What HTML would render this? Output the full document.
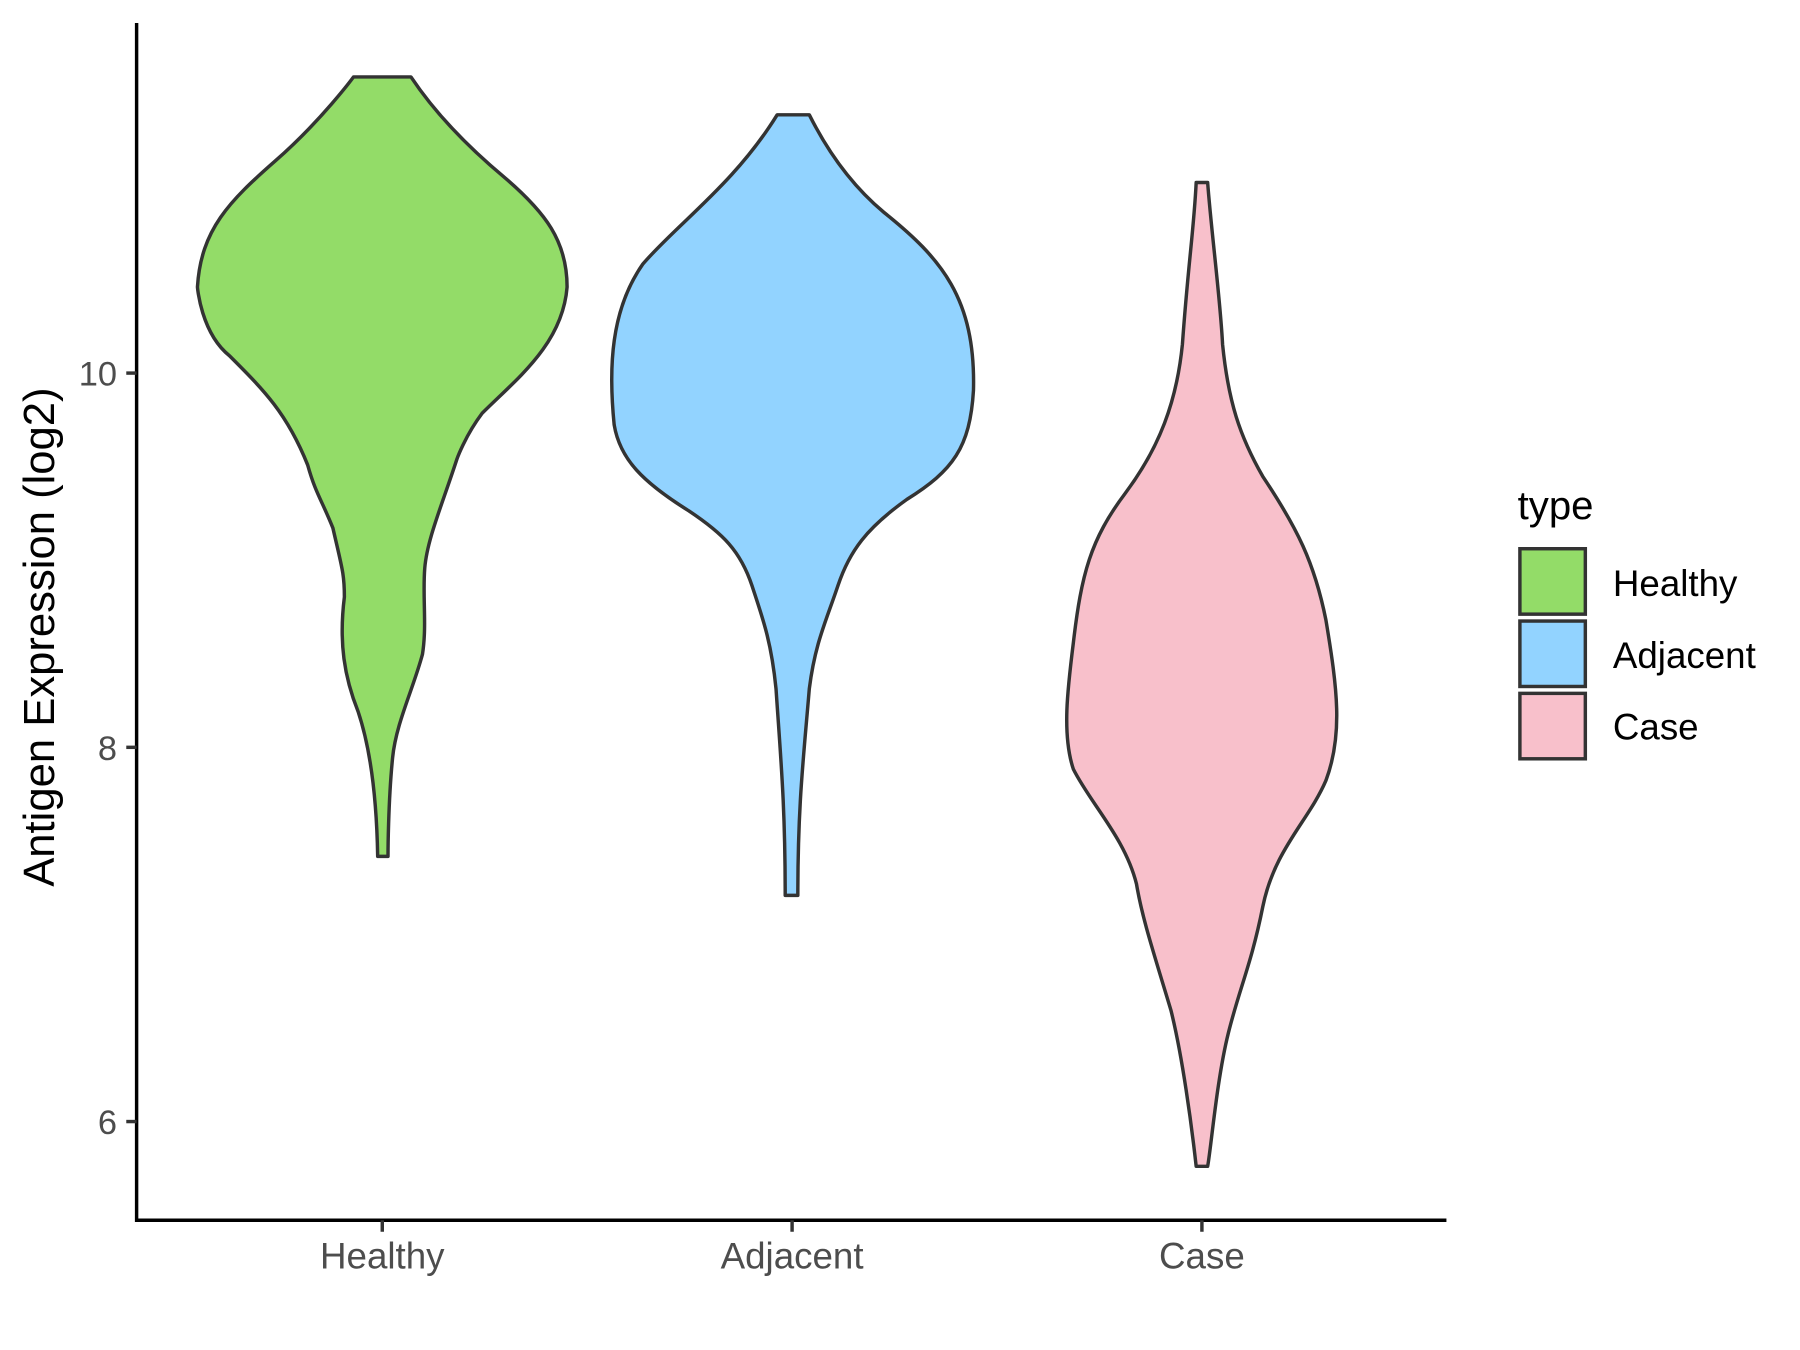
<!DOCTYPE html>
<html><head><meta charset="utf-8"><style>html,body{margin:0;padding:0;background:#fff}svg{display:block}</style></head>
<body>
<svg width="1800" height="1350" viewBox="0 0 1568 1176" preserveAspectRatio="none" xmlns="http://www.w3.org/2000/svg" font-family="Liberation Sans, Arial, sans-serif">
<rect width="1568" height="1176" fill="#fff"/>
<g stroke="#333" stroke-width="3" stroke-linejoin="round">
<path fill="#93DC68" d="M308,67 L358,67 C380,100 410,130 440,155 C475,185 494,210 494,250 C490,300 450,330 420,360 C405,380 398,400 398,400 C385,440 372,470 370,495 C368,520 372,545 368,570 C360,600 345,630 342,660 C338,700 338,746 338,746 L329,746 C328,690 322,650 312,620 C300,590 295,560 300,520 C300,500 298,495 290,460 C280,435 275,430 268,405 C250,360 230,340 200,310 C175,290 172,250 172,250 C175,200 200,175 240,140 C280,105 308,67 308,67 Z"/>
<path fill="#92D3FF" d="M677,100 L705,100 C720,130 740,160 770,185 C820,225 850,260 848,340 C845,390 830,410 790,435 C755,460 740,480 730,510 C720,540 710,560 705,600 C700,660 695,700 695,780 L684,780 C684,700 680,660 676,600 C672,560 665,540 655,510 C645,480 630,465 600,445 C560,420 540,400 535,370 C530,320 532,270 560,230 C590,195 640,160 677,100 Z"/>
<path fill="#F8C0CB" d="M1042,159 L1052,159 C1055,200 1063,260 1065,300 C1070,350 1080,380 1100,415 C1130,460 1145,490 1155,540 C1165,600 1170,640 1155,680 C1140,715 1110,740 1100,790 C1090,840 1080,860 1070,900 C1060,940 1055,1000 1052,1016 L1042,1016 C1038,980 1030,920 1020,880 C1005,830 995,800 990,770 C980,730 950,700 935,670 C925,640 930,600 935,560 C942,500 950,470 980,430 C1010,390 1025,350 1030,300 C1035,230 1040,200 1042,159 Z"/>
</g>
<g stroke="#000" stroke-width="3" fill="none">
<path d="M119,20 V1063 H1260"/>
</g>
<g stroke="#333" stroke-width="3">
<line x1="110" y1="325" x2="119" y2="325"/><line x1="110" y1="651" x2="119" y2="651"/><line x1="110" y1="977" x2="119" y2="977"/>
<line x1="333" y1="1063" x2="333" y2="1073"/><line x1="690" y1="1063" x2="690" y2="1073"/><line x1="1047" y1="1063" x2="1047" y2="1073"/>
</g>
<g fill="#4d4d4d" font-size="30">
<text x="102" y="336" text-anchor="end">10</text>
<text x="102" y="662" text-anchor="end">8</text>
<text x="102" y="988" text-anchor="end">6</text>
</g>
<g fill="#4d4d4d" font-size="32">
<text x="333" y="1105" text-anchor="middle">Healthy</text>
<text x="690" y="1105" text-anchor="middle">Adjacent</text>
<text x="1047" y="1105" text-anchor="middle">Case</text>
</g>
<text transform="translate(47,555) rotate(-90)" text-anchor="middle" font-size="38" fill="#000">Antigen Expression (log2)</text>
<text x="1322" y="452" font-size="35" fill="#000">type</text>
<g stroke="#333" stroke-width="3">
<rect x="1324" y="478" width="57" height="57" fill="#93DC68"/>
<rect x="1324" y="541" width="57" height="57" fill="#92D3FF"/>
<rect x="1324" y="604" width="57" height="57" fill="#F8C0CB"/>
</g>
<g font-size="32" fill="#000">
<text x="1405" y="519">Healthy</text>
<text x="1405" y="582">Adjacent</text>
<text x="1405" y="644">Case</text>
</g>
</svg>
</body></html>
